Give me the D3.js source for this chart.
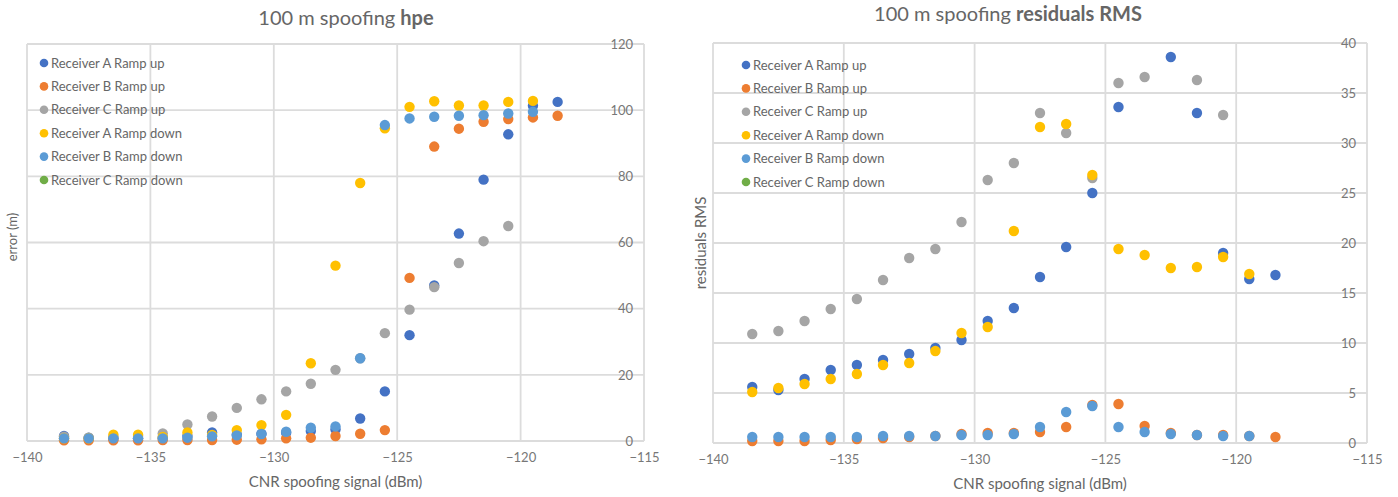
<!DOCTYPE html>
<html>
<head>
<meta charset="utf-8">
<title>100 m spoofing</title>
<script src="https://d3js.org/d3.v7.min.js"></script>
<style>
body { margin:0; background:#fff; }
text { font-family: Lato, "Open Sans", sans-serif; fill:#666; }
</style>
</head>
<body>
<script>
// CNR spoofing signal (dBm)
var cnr = [-138.5,-137.5,-136.5,-135.5,-134.5,-133.5,-132.5,-131.5,-130.5,-129.5,-128.5,-127.5,-126.5,-125.5,-124.5,-123.5,-122.5,-121.5,-120.5,-119.5,-118.5];

var seriesNames = ["Receiver A Ramp up","Receiver B Ramp up","Receiver C Ramp up","Receiver A Ramp down","Receiver B Ramp down","Receiver C Ramp down"];
var seriesColors = ["#4472C4","#ED7D31","#A5A5A5","#FFC000","#5B9BD5","#70AD47"];

// hpe error (m)
var hpeAUp   = [1.5,1.0,0.8,0.8,1.0,1.5,2.6,2.0,2.2,2.5,3.0,3.5,6.8,15,32,47,62.7,79,92.7,101.3,102.5];
var hpeBUp   = [0.2,0.2,0.2,0.2,0.3,0.3,0.3,0.4,0.5,0.8,1.0,1.5,2.2,3.3,49.3,89,94.4,96.5,97.3,97.8,98.3];
var hpeCUp   = [1.3,1.0,1.2,1.5,2.3,5.0,7.4,10.0,12.6,15,17.3,21.5,25,32.6,39.7,46.5,53.8,60.4,65,null,null];
var hpeADown = [0.8,0.8,1.9,1.9,1.2,2.6,1.8,3.3,4.8,7.9,23.5,53,78,94.5,101,102.7,101.4,101.4,102.5,102.8,null];
var hpeBDown = [0.8,0.8,0.8,0.8,0.8,1.0,1.4,1.7,2.1,2.8,4.0,4.4,25,95.5,97.5,98,98.3,98.5,99,99.5,null];
var hpeCDown = [];

// residuals RMS
var rmsAUp   = [5.6,5.3,6.4,7.3,7.8,8.3,8.9,9.5,10.3,12.2,13.5,16.6,19.6,25.0,33.6,null,38.6,33.0,19.0,16.4,16.8];
var rmsBUp   = [0.2,0.2,0.2,0.3,0.4,0.5,0.6,0.7,0.9,1.0,1.0,1.1,1.6,3.8,3.9,1.7,1.0,0.8,0.8,0.7,0.6];
var rmsCUp   = [10.9,11.2,12.2,13.4,14.4,16.3,18.5,19.4,22.1,26.3,28.0,33.0,31.0,26.5,36.0,36.6,null,36.3,32.8,null,null];
var rmsADown = [5.1,5.5,5.9,6.4,6.9,7.8,8.0,9.2,11.0,11.6,21.2,31.6,31.9,26.8,19.4,18.8,17.5,17.6,18.6,16.9,null];
var rmsBDown = [0.6,0.6,0.6,0.6,0.6,0.7,0.7,0.7,0.8,0.8,0.9,1.6,3.1,3.7,1.6,1.1,0.9,0.8,0.7,0.7,null];
var rmsCDown = [];

var xTicks = [-140,-135,-130,-125,-120,-115];
var hpeTicks = [0,20,40,60,80,100,120];
var rmsTicks = [0,5,10,15,20,25,30,35,40];

var svg = d3.select('body').append('svg').attr('width',1398).attr('height',497);

function drawChart(opt){
	var g = svg.append('g');
	var x = d3.scaleLinear().domain([-140,-115]).range([opt.left,opt.right]);
	var y = d3.scaleLinear().domain([0,opt.yMax]).range([opt.bottom,opt.top]);

	// grid
	g.selectAll('line.h').data(opt.yTicks).enter().append('line')
		.attr('x1',opt.left).attr('x2',opt.right)
		.attr('y1',function(d){return y(d);}).attr('y2',function(d){return y(d);})
		.attr('stroke','#dcdcdc').attr('stroke-width',1.8);
	g.selectAll('line.v').data(xTicks).enter().append('line')
		.attr('y1',opt.top).attr('y2',opt.bottom)
		.attr('x1',function(d){return x(d);}).attr('x2',function(d){return x(d);})
		.attr('stroke','#dcdcdc').attr('stroke-width',1.8);

	// x axis labels
	var xAxis = d3.axisBottom(x).tickValues(xTicks).tickSize(0).tickPadding(12);
	var xg = g.append('g').attr('transform','translate(0,'+opt.bottom+')').call(xAxis);
	xg.select('.domain').remove();
	xg.selectAll('text').style('font-size','13px').style('fill','#777');

	// y axis labels sit inside the plot, left of the right edge
	var yAxis = d3.axisLeft(y).tickValues(opt.yTicks).tickSize(0).tickPadding(11);
	var yg = g.append('g').attr('transform','translate('+opt.right+',0)').call(yAxis);
	yg.select('.domain').remove();
	yg.selectAll('text').style('font-size','13px').style('fill','#777');

	// points, series drawn in order
	opt.series.forEach(function(vals,si){
		var pts = cnr.map(function(c,i){return {x:c,y:vals[i]};})
			.filter(function(p){return p.y!=null;});
		g.append('g').selectAll('circle').data(pts).enter().append('circle')
			.attr('cx',function(d){return x(d.x);})
			.attr('cy',function(d){return y(d.y);})
			.attr('r',5.2)
			.attr('fill',seriesColors[si]);
	});

	// legend
	var lg = g.append('g').selectAll('g').data(seriesNames).enter().append('g')
		.attr('transform',function(d,i){return 'translate('+opt.legX+','+(opt.legY+i*opt.legStep)+')';});
	lg.append('circle').attr('r',4.3).attr('fill',function(d,i){return seriesColors[i];});
	lg.append('text').attr('x',7).attr('dy','0.35em').style('font-size','13px').text(function(d){return d;});

	// titles
	var t = g.append('text').attr('x',opt.titleX).attr('y',opt.titleY)
		.attr('text-anchor','middle').style('font-size','20px');
	t.append('tspan').text('100 m spoofing ');
	t.append('tspan').style('font-weight','bold').text(opt.titleBold);

	g.append('text').attr('x',(opt.left+opt.right)/2).attr('y',opt.bottom+46)
		.attr('text-anchor','middle').style('font-size','15px').text('CNR spoofing signal (dBm)');

	g.append('text').attr('transform','translate('+opt.yTitleX+','+opt.yTitleY+') rotate(-90)')
		.attr('text-anchor','middle').style('font-size',opt.yTitleSize).text(opt.yTitle);
}

drawChart({left:27,right:644,top:44,bottom:441,yMax:120,yTicks:hpeTicks,
	series:[hpeAUp,hpeBUp,hpeCUp,hpeADown,hpeBDown,hpeCDown],
	legX:44,legY:63,legStep:23.4,titleX:346,titleY:25,titleBold:'hpe',
	yTitle:'error (m)',yTitleX:17,yTitleY:237,yTitleSize:'13px'});

drawChart({left:713,right:1367,top:43,bottom:443,yMax:40,yTicks:rmsTicks,
	series:[rmsAUp,rmsBUp,rmsCUp,rmsADown,rmsBDown,rmsCDown],
	legX:746,legY:65,legStep:23.4,titleX:1008,titleY:21,titleBold:'residuals RMS',
	yTitle:'residuals RMS',yTitleX:706,yTitleY:243,yTitleSize:'15px'});
</script>
</body>
</html>
